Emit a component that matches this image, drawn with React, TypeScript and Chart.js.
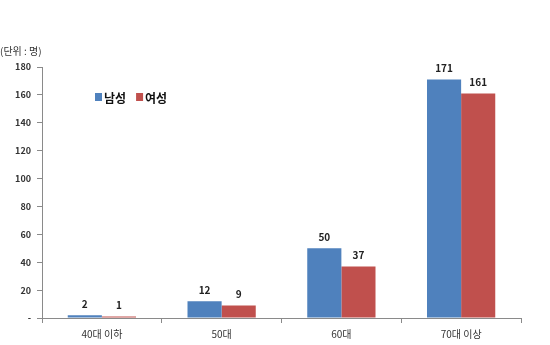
import React, { useEffect, useRef } from "react";
import { Chart, registerables } from "chart.js";

Chart.register(...registerables);

const categories = ["40대 이하", "50대", "60대", "70대 이상"];
const maleValues = [2, 12, 50, 171];
const femaleValues = [1, 9, 37, 161];
const seriesNames = ["남성", "여성"];
const unitLabel = "(단위 : 명)";

const BLUE = "#4F81BD";
const RED = "#C0504D";
const FONT = "'Noto Sans CJK KR', 'Noto Sans', sans-serif";

const overlayPlugin = {
  id: "overlay",
  afterDatasetsDraw(chart: any) {
    const ctx = chart.ctx;
    ctx.save();
    ctx.fillStyle = "#222";
    ctx.font = `bold 10px ${FONT}`;
    ctx.textAlign = "center";
    ctx.textBaseline = "bottom";
    chart.data.datasets.forEach((ds: any, i: number) => {
      const meta = chart.getDatasetMeta(i);
      meta.data.forEach((bar: any, j: number) => {
        ctx.fillText(String(ds.data[j]), bar.x, bar.y - 6);
      });
    });
    // unit label
    ctx.font = `10px ${FONT}`;
    ctx.fillStyle = "#333";
    ctx.textAlign = "left";
    ctx.textBaseline = "middle";
    ctx.fillText(unitLabel, 0, 51);
    // legend
    const colors = [BLUE, RED];
    let x = 95;
    const y = 97;
    ctx.font = `bold 12px ${FONT}`;
    chart.data.datasets.forEach((ds: any, i: number) => {
      ctx.fillStyle = colors[i];
      ctx.fillRect(x, y - 4, 7, 8);
      ctx.fillStyle = "#111";
      ctx.fillText(ds.label, x + 9, y + 1);
      x += 9 + ctx.measureText(ds.label).width + 10;
    });
    ctx.restore();
  },
};

export default function App() {
  const ref = useRef<HTMLCanvasElement>(null);
  useEffect(() => {
    document.body.style.margin = "0";
    const chart = new Chart(ref.current!, {
      type: "bar",
      data: {
        labels: categories,
        datasets: [
          { label: seriesNames[0], data: maleValues, backgroundColor: BLUE },
          { label: seriesNames[1], data: femaleValues, backgroundColor: RED },
        ],
      },
      options: {
        responsive: false,
        animation: false,
        devicePixelRatio: 1,
        layout: { padding: { top: 67, right: 29, left: 0, bottom: 0 } },
        datasets: { bar: { categoryPercentage: 0.57, barPercentage: 1 } },
        plugins: { legend: { display: false }, tooltip: { enabled: false } },
        scales: {
          x: {
            afterFit: (s: any) => { s.height = 27; },
            border: { color: "#8a8a8a" },
            grid: { drawOnChartArea: false, tickLength: 5, color: "#8a8a8a", offset: true },
            ticks: { color: "#333", font: { family: FONT, size: 10 }, padding: 5 },
          },
          y: {
            min: 0,
            max: 180,
            afterFit: (s: any) => { s.width = 42; },
            border: { color: "#8a8a8a" },
            grid: { drawOnChartArea: false, tickLength: 5, color: "#8a8a8a" },
            ticks: {
              stepSize: 20,
              color: "#333",
              font: { family: FONT, size: 9, weight: "bold" },
              padding: 6,
              callback: (v: any) => (v === 0 ? "-" : String(v)),
            },
          },
        },
      },
      plugins: [overlayPlugin],
    });
    return () => chart.destroy();
  }, []);
  return (
    <div style={{ position: "absolute", left: 0, top: 0, width: 550, height: 345, background: "#fff" }}>
      <canvas ref={ref} width={550} height={345} />
    </div>
  );
}
